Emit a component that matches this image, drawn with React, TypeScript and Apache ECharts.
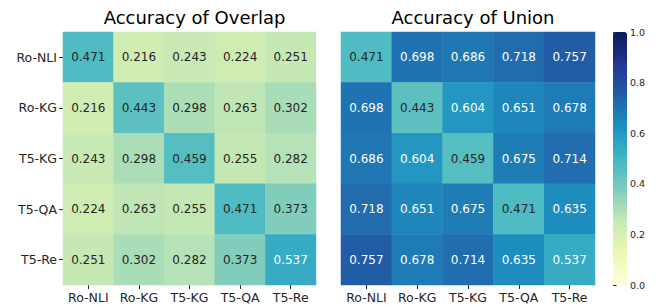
import React, { useEffect, useRef } from "react";
import * as echarts from "echarts";

const categories = ["Ro-NLI", "Ro-KG", "T5-KG", "T5-QA", "T5-Re"];
const overlap = [
  [0.471, 0.216, 0.243, 0.224, 0.251],
  [0.216, 0.443, 0.298, 0.263, 0.302],
  [0.243, 0.298, 0.459, 0.255, 0.282],
  [0.224, 0.263, 0.255, 0.471, 0.373],
  [0.251, 0.302, 0.282, 0.373, 0.537],
];
const union = [
  [0.471, 0.698, 0.686, 0.718, 0.757],
  [0.698, 0.443, 0.604, 0.651, 0.678],
  [0.686, 0.604, 0.459, 0.675, 0.714],
  [0.718, 0.651, 0.675, 0.471, 0.635],
  [0.757, 0.678, 0.714, 0.635, 0.537],
];
const titles = ["Accuracy of Overlap", "Accuracy of Union"];
const colorbarTicks = [0, 0.2, 0.4, 0.6, 0.8, 1.0];
const ylgnbu = [
  "#ffffd9", "#edf8b1", "#c7e9b4", "#7fcdbb", "#41b6c4",
  "#1d91c0", "#225ea8", "#253494", "#081d58",
];

const FONT = "DejaVu Sans";
const DARK = "#262626";

function toData(m: number[][]) {
  const out: any[] = [];
  m.forEach((row, r) =>
    row.forEach((v, c) => {
      out.push({
        value: [c, r, v],
        label: { color: v > 0.5 ? "#ffffff" : DARK },
      });
    })
  );
  return out;
}

export default function App() {
  const ref = useRef<HTMLDivElement>(null);
  useEffect(() => {
    document.body.style.margin = "0";
    const chart = echarts.init(ref.current!, null, { renderer: "svg" });
    const gridBox = [
      { left: 63, top: 32, width: 253, height: 253 },
      { left: 341, top: 32, width: 254, height: 253 },
      { left: 613, top: 32, width: 14, height: 253 },
    ];
    const catX = (i: number) => ({
      type: "category",
      gridIndex: i,
      data: categories,
      position: "bottom",
      axisLine: { show: false },
      axisTick: { show: true, alignWithLabel: true, length: 4, lineStyle: { color: DARK } },
      axisLabel: { interval: 0, hideOverlap: false, fontFamily: FONT, fontSize: 12.5, color: DARK, margin: 6 },
      splitLine: { show: false },
    });
    const catY = (i: number, showLabels: boolean) => ({
      type: "category",
      gridIndex: i,
      data: categories,
      inverse: true,
      axisLine: { show: false },
      axisTick: { show: showLabels, alignWithLabel: true, length: 4, lineStyle: { color: DARK } },
      axisLabel: { show: showLabels, interval: 0, fontFamily: FONT, fontSize: 12.5, color: DARK, margin: 6 },
      splitLine: { show: false },
    });
    const heat = (i: number, m: number[][]) => ({
      type: "heatmap",
      xAxisIndex: i,
      yAxisIndex: i,
      data: toData(m),
      label: {
        show: true,
        fontFamily: FONT,
        fontSize: 12,
        formatter: (p: any) => p.value[2].toFixed(3),
      },
      itemStyle: { borderWidth: 0 },
      emphasis: { disabled: true },
    });
    chart.setOption({
      animation: false,
      backgroundColor: "#ffffff",
      title: [
        {
          text: titles[0],
          left: 189.5,
          top: 3,
          textAlign: "center",
          textStyle: { fontFamily: FONT, fontSize: 18, fontWeight: "normal", color: "#000" },
        },
        {
          text: titles[1],
          left: 468,
          top: 3,
          textAlign: "center",
          textStyle: { fontFamily: FONT, fontSize: 18, fontWeight: "normal", color: "#000" },
        },
      ],
      grid: gridBox,
      xAxis: [
        catX(0),
        catX(1),
        { type: "value", gridIndex: 2, min: 0, max: 1, show: false },
      ],
      yAxis: [
        catY(0, true),
        catY(1, false),
        {
          type: "value",
          gridIndex: 2,
          min: 0,
          max: 1,
          interval: 0.2,
          position: "right",
          axisLine: { show: false },
          axisTick: { show: true, length: 3.5, lineStyle: { color: DARK } },
          axisLabel: {
            fontFamily: FONT,
            fontSize: 9.5,
            color: DARK,
            margin: 3,
            formatter: (v: number) =>
              colorbarTicks.some((t) => Math.abs(t - v) < 1e-9) ? v.toFixed(1) : "",
          },
          splitLine: { show: false },
        },
      ],
      visualMap: {
        type: "continuous",
        min: 0,
        max: 1,
        seriesIndex: [0, 1],
        left: 613,
        top: 32,
        itemWidth: 14,
        itemHeight: 253,
        padding: 0,
        calculable: false,
        hoverLink: false,
        text: null,
        inRange: { color: ylgnbu },
      },
      series: [
        heat(0, overlap),
        heat(1, union),
        { type: "scatter", xAxisIndex: 2, yAxisIndex: 2, data: [], silent: true },
      ],
    });
    return () => chart.dispose();
  }, []);
  return <div ref={ref} style={{ width: 657, height: 305 }} />;
}
